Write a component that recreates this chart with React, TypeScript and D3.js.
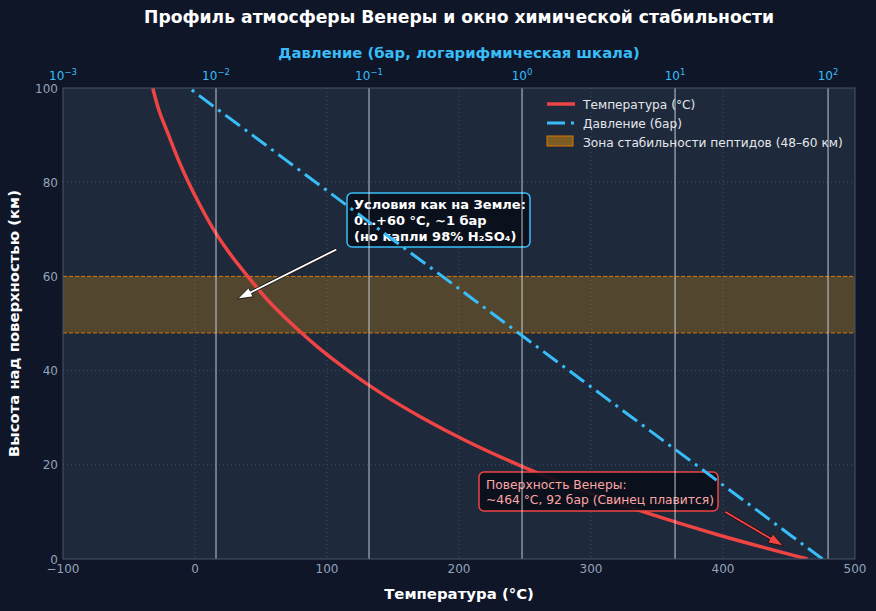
import React from 'react';
import * as d3 from 'd3';

const altitudes = [0, 5, 10, 15, 20, 25, 30, 35, 40, 45, 50, 55, 60, 65, 70, 75, 80, 85, 90, 95, 100];
const temperatures = [464, 398, 340, 289, 245, 206, 172, 142, 116, 93, 73, 55, 40, 26, 14, 4, -5, -13, -20, -27, -32];
const pressures = [92, 57.1, 35.5, 22.0, 13.7, 8.49, 5.27, 3.27, 2.03, 1.26, 0.783, 0.486, 0.302, 0.187, 0.116, 0.0722, 0.0448, 0.0278, 0.0173, 0.0107, 0.00667];
const tempTicks = [-100, 0, 100, 200, 300, 400, 500];
const altTicks = [0, 20, 40, 60, 80, 100];
const pressureExponents = [-3, -2, -1, 0, 1, 2];
const stableZone = [48, 60];
const legendLabels = ['Температура (°C)', 'Давление (бар)', 'Зона стабильности пептидов (48–60 км)'];
const earthNote = ['Условия как на Земле:', '0…+60 °C, ~1 бар', '(но капли 98% H₂SO₄)'];
const surfaceNote = ['Поверхность Венеры:', '~464 °C, 92 бар (Свинец плавится)'];

const W = 876, H = 611;
const L = 63, R = 855, T = 88, B = 559;
const FONT = '"DejaVu Sans", sans-serif';

function arrowPath(x1: number, y1: number, x2: number, y2: number, w: number, hw: number, hl: number) {
  const dx = x2 - x1, dy = y2 - y1;
  const len = Math.hypot(dx, dy);
  const ux = dx / len, uy = dy / len;
  const nx = -uy, ny = ux;
  const bx = x2 - ux * hl, by = y2 - uy * hl;
  const pts = [
    [x1 + nx * w / 2, y1 + ny * w / 2],
    [bx + nx * w / 2, by + ny * w / 2],
    [bx + nx * hw / 2, by + ny * hw / 2],
    [x2, y2],
    [bx - nx * hw / 2, by - ny * hw / 2],
    [bx - nx * w / 2, by - ny * w / 2],
    [x1 - nx * w / 2, y1 - ny * w / 2],
  ];
  return 'M' + pts.map(p => p.join(',')).join('L') + 'Z';
}

export default function App() {
  const x = d3.scaleLinear().domain([-100, 500]).range([L, R]);
  const xp = d3.scaleLog().domain([1e-3, 150]).range([L, R]);
  const y = d3.scaleLinear().domain([0, 100]).range([B, T]);

  const tempLine = d3.line<number>()
    .x((_, i) => x(temperatures[i]))
    .y((_, i) => y(altitudes[i]))
    .curve(d3.curveCatmullRom.alpha(0.5))(altitudes) as string;
  const presLine = d3.line<number>()
    .x((_, i) => xp(pressures[i]))
    .y((_, i) => y(altitudes[i]))
    .curve(d3.curveMonotoneY)(altitudes) as string;

  const cx = (L + R) / 2;

  return (
    <div style={{ position: 'fixed', left: 0, top: 0 }}>
      <svg width={W} height={H} style={{ display: 'block', fontFamily: FONT }}>
        <defs>
          <clipPath id="plot"><rect x={L} y={T} width={R - L} height={B - T} /></clipPath>
        </defs>
        <rect x={0} y={0} width={W} height={H} fill="#0e1628" />
        <rect x={L} y={T} width={R - L} height={B - T} fill="#1e293b" />

        {/* ax1 grid */}
        <g stroke="#475569" strokeWidth={0.8} strokeDasharray="1,3">
          {tempTicks.slice(1, -1).map(t => <line key={'gx' + t} x1={x(t)} x2={x(t)} y1={T} y2={B} />)}
          {altTicks.slice(1, -1).map(t => <line key={'gy' + t} x1={L} x2={R} y1={y(t)} y2={y(t)} />)}
        </g>

        {/* stability zone */}
        <rect x={L} y={y(stableZone[1])} width={R - L} height={y(stableZone[0]) - y(stableZone[1])} fill="#f59e0b" fillOpacity={0.25} />
        <g stroke="#d97706" strokeWidth={1} strokeDasharray="4,2">
          <line x1={L} x2={R} y1={y(stableZone[0])} y2={y(stableZone[0])} />
          <line x1={L} x2={R} y1={y(stableZone[1])} y2={y(stableZone[1])} />
        </g>

        <g clipPath="url(#plot)">
          <path d={tempLine} fill="none" stroke="#ef4444" strokeWidth={3.5} />
        </g>

        {/* annotation: earth-like */}
        <path d={arrowPath(336.7, 249.3, 237.5, 299, 2.6, 10, 15)} fill="#ffffff" stroke="#000000" strokeWidth={0.8} />
        <rect x={347} y={193} width={183} height={54} rx={5} fill="#0a0f1a" fillOpacity={0.92} stroke="#38bdf8" strokeWidth={1.5} />
        <g fill="#ffffff" fontWeight="bold" fontSize={13}>
          {earthNote.map((s, i) => <text key={s} x={354} y={209 + i * 16}>{s}</text>)}
        </g>

        {/* annotation: surface */}
        <path d={arrowPath(725, 511.7, 783.3, 546, 2.6, 10, 15)} fill="#ef4444" stroke="#1a0505" strokeWidth={0.8} />
        <rect x={479} y={472} width={239} height={39} rx={5} fill="#0a0f1a" fillOpacity={0.92} stroke="#ef4444" strokeWidth={1.5} />
        <g fill="#fca5a5" fontSize={12.3}>
          {surfaceNote.map((s, i) => <text key={s} x={486} y={489 + i * 15}>{s}</text>)}
        </g>

        {/* legend */}
        <g fontSize={12.2} fill="#e5e7eb">
          <line x1={547} x2={575} y1={104} y2={104} stroke="#ef4444" strokeWidth={3.5} />
          <text x={583} y={108.5}>{legendLabels[0]}</text>
          <line x1={547} x2={575} y1={123} y2={123} stroke="#38bdf8" strokeWidth={3} strokeDasharray="18,6,3,6" />
          <text x={583} y={127.5}>{legendLabels[1]}</text>
          <rect x={547} y={136} width={26} height={10} fill="#f59e0b" fillOpacity={0.45} stroke="#d97706" strokeWidth={1} />
          <text x={583} y={146.5}>{legendLabels[2]}</text>
        </g>

        {/* ax2 grid (on top) */}
        <g stroke="#e2e8f0" strokeOpacity={0.7} strokeWidth={1.2}>
          {pressureExponents.slice(1).map(e => <line key={'px' + e} x1={xp(Math.pow(10, e))} x2={xp(Math.pow(10, e))} y1={T} y2={B} />)}
        </g>
        <g clipPath="url(#plot)">
          <path d={presLine} fill="none" stroke="#38bdf8" strokeWidth={3} strokeDasharray="18,6,3,6" />
        </g>

        {/* frame */}
        <rect x={L} y={T} width={R - L} height={B - T} fill="none" stroke="#475569" strokeWidth={1} />

        {/* bottom ticks */}
        <g fill="#94a3b8" fontSize={12} textAnchor="middle">
          {tempTicks.map(t => <text key={'tx' + t} x={x(t)} y={573}>{t < 0 ? '−' + Math.abs(t) : t}</text>)}
        </g>
        {/* left ticks */}
        <g fill="#94a3b8" fontSize={12} textAnchor="end">
          {altTicks.map(t => <text key={'ty' + t} x={58} y={y(t) + 4.5}>{t}</text>)}
        </g>
        {/* top ticks */}
        <g fill="#38bdf8" fontSize={12}>
          {pressureExponents.map(e => (
            <text key={'tp' + e} x={xp(Math.pow(10, e))} y={80} textAnchor="middle">
              10<tspan fontSize={8.5} dy={-5}>{e < 0 ? '−' + Math.abs(e) : e}</tspan>
            </text>
          ))}
        </g>

        {/* labels */}
        <text x={cx} y={23} textAnchor="middle" fill="#ffffff" fontWeight="bold" fontSize={17.2}>Профиль атмосферы Венеры и окно химической стабильности</text>
        <text x={cx} y={58} textAnchor="middle" fill="#38bdf8" fontWeight="bold" fontSize={14.8}>Давление (бар, логарифмическая шкала)</text>
        <text x={cx} y={599} textAnchor="middle" fill="#ffffff" fontWeight="bold" fontSize={14.9}>Температура (°C)</text>
        <text transform={`translate(19,${(T + B) / 2}) rotate(-90)`} textAnchor="middle" fill="#ffffff" fontWeight="bold" fontSize={14.8}>Высота над поверхностью (км)</text>
      </svg>
    </div>
  );
}
